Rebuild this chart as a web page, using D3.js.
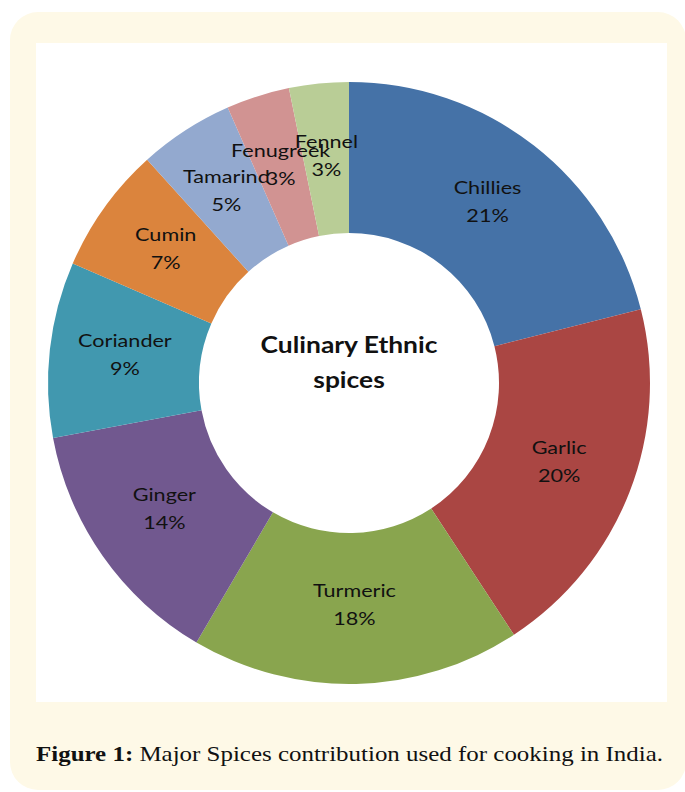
<!DOCTYPE html>
<html>
<head>
<meta charset="utf-8">
<script src="https://cdn.jsdelivr.net/npm/d3@7"></script>
<style>
  html, body { margin: 0; padding: 0; background: #ffffff; }
  svg { display: block; }
</style>
</head>
<body>
<div id="chart"></div>
<script>
// ---- data ----
const categories = ["Chillies", "Garlic", "Turmeric", "Ginger", "Coriander", "Cumin", "Tamarind", "Fenugreek", "Fennel"];
const values = [21.06, 19.71, 17.69, 13.62, 9.42, 6.8, 5.1, 3.4, 3.2];
const colors = ["#4572A7", "#AA4643", "#89A54E", "#71588F", "#4198AF", "#DB843D", "#93A9CF", "#D19392", "#B9CD96"];
const centerTitle = ["Culinary Ethnic", "spices"];
const captionBold = "Figure 1:";
const captionText = " Major Spices contribution used for cooking in India.";

const W = 685, H = 792;
const svg = d3.select("#chart").append("svg").attr("width", W).attr("height", H);

// frame
svg.append("rect").attr("x", 10).attr("y", 12).attr("width", 676).attr("height", 778)
  .attr("rx", 28).attr("fill", "#FEF9E7");
svg.append("rect").attr("x", 36).attr("y", 43).attr("width", 631).attr("height", 659)
  .attr("fill", "#ffffff");

const cx = 349, cy = 383, rOuter = 301, rInner = 150;
const total = d3.sum(values);
const data = categories.map((c, i) => ({ name: c, value: values[i], color: colors[i] }));

const pie = d3.pie().value(d => d.value).sort(null);
const arc = d3.arc().innerRadius(rInner).outerRadius(rOuter);
const labelArc = d3.arc().innerRadius((rInner + rOuter) / 2).outerRadius((rInner + rOuter) / 2);

const g = svg.append("g").attr("transform", `translate(${cx},${cy})`);
const arcs = pie(data);
g.selectAll("path.slice").data(arcs).enter().append("path")
  .attr("class", "slice")
  .attr("d", arc)
  .attr("fill", d => d.data.color);

const labelFont = "Lato, 'Open Sans', sans-serif";
const lbl = g.selectAll("g.lbl").data(arcs).enter().append("g")
  .attr("class", "lbl")
  .attr("transform", d => { const p = labelArc.centroid(d); return `translate(${p[0]},${p[1] - 3}) scale(1.2,1)`; });
lbl.append("text")
  .attr("text-anchor", "middle").attr("y", -8)
  .attr("font-family", labelFont).attr("font-size", 18).attr("fill", "#111")
  .text(d => d.data.name);
lbl.append("text")
  .attr("text-anchor", "middle").attr("y", 20)
  .attr("font-family", labelFont).attr("font-size", 18).attr("fill", "#111")
  .text(d => Math.round(d.data.value / total * 100) + "%");

// center title
g.append("g").attr("transform", "scale(1.2,1)")
  .selectAll("text.title").data(centerTitle).enter().append("text")
  .attr("class", "title")
  .attr("text-anchor", "middle")
  .attr("y", (d, i) => -30 + i * 35)
  .attr("font-family", labelFont).attr("font-weight", "bold").attr("font-size", 22).attr("fill", "#111")
  .text(d => d);

// caption
const cap = svg.append("text").attr("x", 36).attr("y", 761)
  .attr("font-family", "'Liberation Serif', 'DejaVu Serif', serif").attr("font-size", 21).attr("fill", "#111");
cap.append("tspan").attr("font-weight", "bold").text(captionBold);
cap.append("tspan").text(captionText);
cap.attr("textLength", 627).attr("lengthAdjust", "spacingAndGlyphs");
</script>
</body>
</html>
